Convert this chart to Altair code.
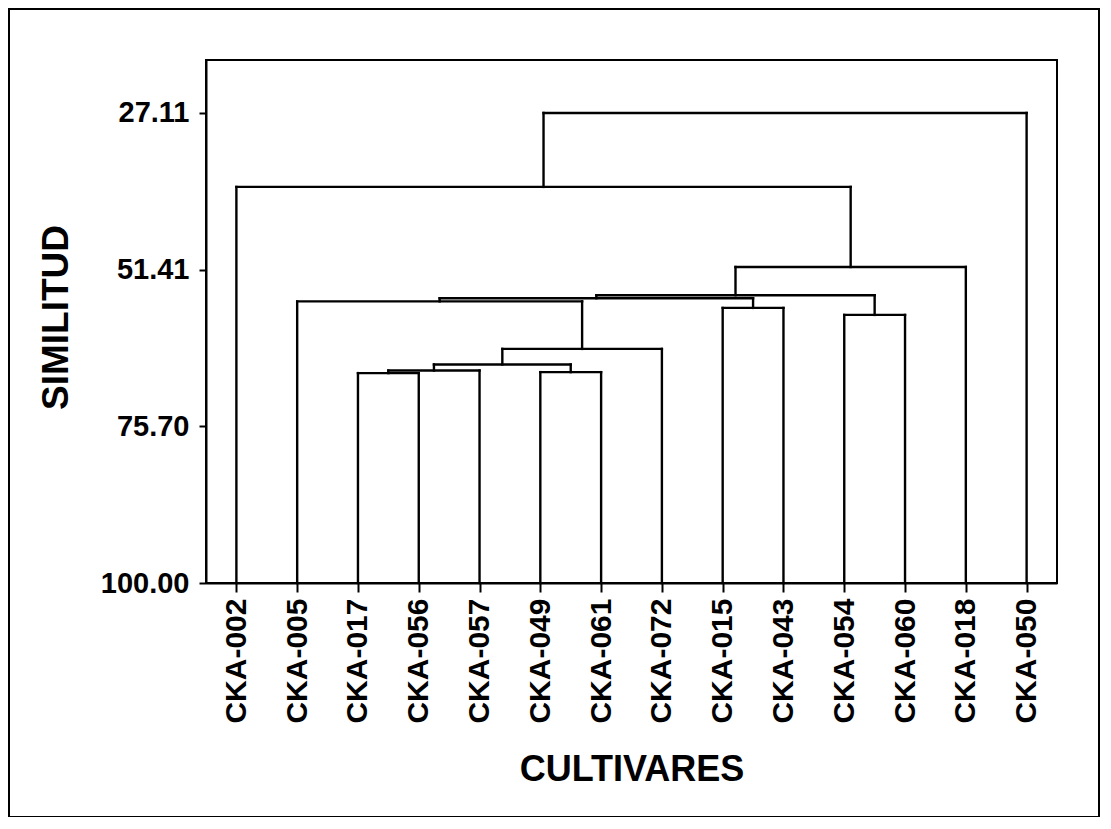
import json
import altair as alt
import pandas as pd

# Leaves in dendrogram order
leaves = ["CKA-002", "CKA-005", "CKA-017", "CKA-056", "CKA-057", "CKA-049", "CKA-061",
          "CKA-072", "CKA-015", "CKA-043", "CKA-054", "CKA-060", "CKA-018", "CKA-050"]

# Merges: left child, right child, similarity level (C# = result of merge #)
merge_left = ["CKA-017", "CKA-049", "C1", "C3", "C4", "CKA-054", "CKA-015",
              "CKA-005", "C8", "C9", "C10", "CKA-002", "C12"]
merge_right = ["CKA-056", "CKA-061", "CKA-057", "C2", "CKA-072", "CKA-060", "CKA-043",
               "C5", "C7", "C6", "CKA-018", "C11", "CKA-050"]
merge_sim = [67.45, 67.30, 67.05, 66.11, 63.70, 58.43, 57.34,
             56.33, 55.84, 55.37, 51.00, 38.58, 27.11]

y_ticks = [27.11, 51.41, 75.70, 100.00]
y_min_shown = 18.9

# Build segment table from the merge list
pos = {name: (i, 100.0) for i, name in enumerate(leaves)}
segs = []
for k, (a, b, s) in enumerate(zip(merge_left, merge_right, merge_sim), start=1):
    xa, ha = pos[a]
    xb, hb = pos[b]
    segs.append({"x": xa, "x2": xa, "y": ha, "y2": s})
    segs.append({"x": xb, "x2": xb, "y": hb, "y2": s})
    segs.append({"x": xa, "x2": xb, "y": s, "y2": s})
    pos["C%d" % k] = ((xa + xb) / 2.0, s)
seg_df = pd.DataFrame(segs)

FONT = "Liberation Sans"
label_expr = json.dumps(leaves) + "[datum.value]"

x_enc = alt.X("x:Q",
              scale=alt.Scale(domain=[-0.5, len(leaves) - 0.5], nice=False, zero=False),
              axis=alt.Axis(values=list(range(len(leaves))), labelExpr=label_expr,
                            labelAngle=270, labelFontSize=30, labelFont=FONT,
                            labelFontWeight="bold", labelColor="black", labelPadding=6,
                            tickSize=9, tickWidth=2, tickColor="black",
                            domainColor="black", domainWidth=2, grid=False,
                            title="CULTIVARES", titleFontSize=36, titleFont=FONT,
                            titleFontWeight="bold", titleColor="black",
                            titleY=186, titleBaseline="middle"))
y_enc = alt.Y("y:Q",
              scale=alt.Scale(domain=[y_min_shown, 100], reverse=True, nice=False, zero=False),
              axis=alt.Axis(values=y_ticks, format=".2f", labelFontSize=29, labelFont=FONT,
                            labelFontWeight="bold", labelColor="black", labelPadding=10,
                            tickSize=7, tickWidth=2, tickColor="black",
                            domainColor="black", domainWidth=2, grid=False,
                            title="SIMILITUD", titleFontSize=37, titleFont=FONT,
                            titleFontWeight="bold", titleColor="black",
                            titleX=-150, titleY=257, titleBaseline="middle", titleAlign="center"))

dendro = alt.Chart(seg_df).mark_rule(color="black", strokeWidth=2.4, strokeCap="square").encode(
    x=x_enc, x2="x2:Q", y=y_enc, y2="y2:Q"
)

frame = alt.Chart(pd.DataFrame({"a": [0]})).mark_rect(
    fillOpacity=0, stroke="black", strokeWidth=2
).encode(x=alt.value(-197), x2=alt.value(893), y=alt.value(-51), y2=alt.value(757))

chart = alt.layer(frame, dendro).properties(
    width=851, height=523,
    autosize=alt.AutoSizeParams(type="none"),
    padding={"left": 198, "top": 52, "right": 44, "bottom": 234},
    background="white",
).configure_view(stroke="black", strokeWidth=2)

chart.save("out.html", embed_options={"renderer": "svg", "actions": False})
